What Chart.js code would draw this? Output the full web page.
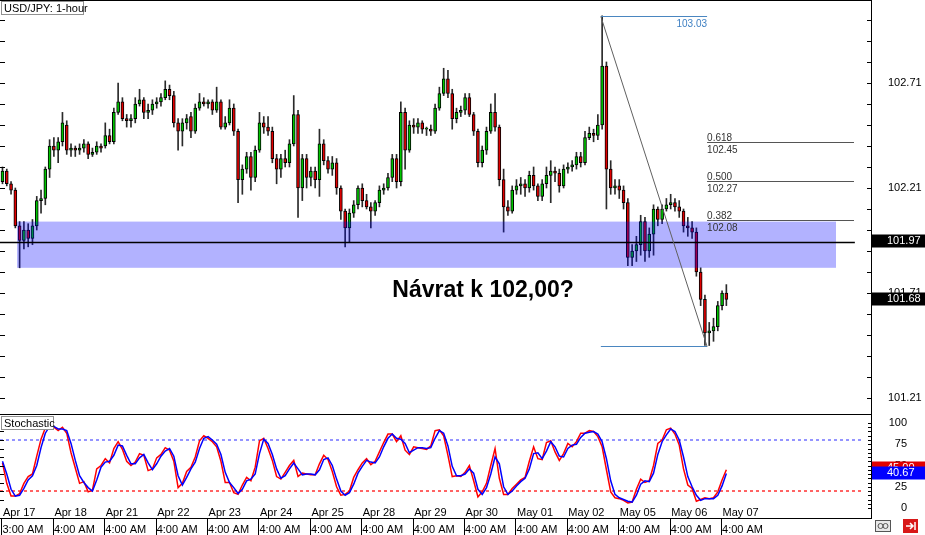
<!DOCTYPE html>
<html>
<head>
<meta charset="utf-8">
<title>USD/JPY 1-hour</title>
<script src="https://cdn.jsdelivr.net/npm/chart.js@4.4.0/dist/chart.umd.min.js"></script>
<style>
  html, body { margin: 0; padding: 0; background: #fff; }
  #wrap { position: relative; width: 925px; height: 535px; overflow: hidden; }
  #priceChart { position: absolute; left: 0; top: 0; }
  #stochChart { position: absolute; left: 0; top: 414px; }
</style>
</head>
<body>
<div id="wrap">
  <canvas id="priceChart" width="925" height="414"></canvas>
  <canvas id="stochChart" width="925" height="121"></canvas>
</div>
<script>
// USD/JPY candles (2-hour steps)
const opens = [
  102.24,102.29,102.23,102.20,102.03,101.96,102.01,101.97,102.03,102.15,
  102.16,102.30,102.41,102.39,102.43,102.51,102.39,102.40,102.39,102.40,
  102.42,102.37,102.38,102.41,102.41,102.46,102.43,102.57,102.62,102.54,
  102.53,102.54,102.61,102.63,102.57,102.58,102.61,102.62,102.64,102.68,
  102.65,102.52,102.48,102.52,102.55,102.48,102.59,102.62,102.61,102.62,
  102.58,102.62,102.50,102.52,102.59,102.48,102.25,102.30,102.36,102.26,
  102.39,102.52,102.50,102.48,102.35,102.30,102.35,102.33,102.42,102.56,
  102.21,102.35,102.26,102.29,102.25,102.42,102.34,102.30,102.33,102.21,
  102.10,102.02,102.09,102.13,102.21,102.15,102.12,102.10,102.14,102.20,
  102.21,102.26,102.35,102.24,102.57,102.39,102.51,102.50,102.52,102.49,
  102.49,102.48,102.59,102.66,102.73,102.66,102.54,102.57,102.58,102.64,
  102.56,102.48,102.33,102.39,102.48,102.57,102.50,102.25,102.12,102.10,
  102.20,102.22,102.23,102.21,102.27,102.22,102.17,102.23,102.27,102.29,
  102.28,102.22,102.30,102.31,102.32,102.36,102.33,102.45,102.47,102.46,
  102.51,102.79,102.30,102.21,102.22,102.20,102.14,101.88,101.91,101.94,
  102.05,101.91,101.99,102.11,102.06,102.11,102.13,102.14,102.12,102.10,
  102.03,102.02,102.00,101.81,101.68,101.52,101.53,101.55,101.65,101.71
];
const highs = [
  102.31,102.30,102.24,102.21,102.05,102.05,102.04,102.06,102.17,102.20,
  102.31,102.44,102.45,102.45,102.57,102.53,102.42,102.41,102.42,102.44,
  102.43,102.40,102.43,102.42,102.52,102.49,102.59,102.71,102.64,102.56,
  102.56,102.64,102.68,102.64,102.61,102.63,102.64,102.66,102.72,102.70,
  102.67,102.54,102.54,102.56,102.57,102.61,102.66,102.64,102.63,102.63,
  102.69,102.63,102.55,102.63,102.61,102.49,102.32,102.38,102.38,102.41,
  102.57,102.55,102.55,102.50,102.37,102.37,102.39,102.44,102.65,102.58,
  102.37,102.37,102.31,102.31,102.49,102.44,102.36,102.36,102.35,102.22,
  102.11,102.11,102.15,102.22,102.23,102.18,102.14,102.15,102.22,102.23,
  102.28,102.37,102.37,102.62,102.59,102.53,102.54,102.54,102.53,102.50,
  102.51,102.61,102.69,102.78,102.77,102.68,102.59,102.60,102.66,102.66,
  102.57,102.49,102.41,102.50,102.61,102.66,102.51,102.30,102.15,102.22,
  102.25,102.26,102.25,102.29,102.31,102.23,102.25,102.31,102.34,102.31,
  102.30,102.32,102.33,102.34,102.38,102.38,102.48,102.50,102.49,102.56,
  103.03,102.81,102.34,102.25,102.25,102.22,102.16,101.94,101.98,102.08,
  102.07,102.02,102.13,102.12,102.13,102.16,102.18,102.16,102.15,102.11,
  102.07,102.05,102.02,101.83,101.70,101.57,101.59,101.67,101.72,101.75
];
const lows = [
  102.23,102.22,102.18,102.02,101.83,101.92,101.93,101.94,102.01,102.09,
  102.13,102.26,102.36,102.33,102.41,102.37,102.36,102.36,102.37,102.38,
  102.35,102.36,102.37,102.38,102.40,102.42,102.42,102.56,102.53,102.50,
  102.50,102.52,102.60,102.54,102.54,102.56,102.59,102.60,102.63,102.63,
  102.50,102.39,102.41,102.49,102.45,102.47,102.58,102.60,102.59,102.56,
  102.57,102.49,102.49,102.51,102.46,102.14,102.18,102.28,102.20,102.24,
  102.38,102.47,102.46,102.33,102.23,102.26,102.31,102.31,102.41,102.07,
  102.15,102.21,102.22,102.21,102.17,102.32,102.28,102.27,102.18,102.06,
  101.93,101.95,102.07,102.11,102.12,102.11,102.02,102.08,102.12,102.18,
  102.20,102.24,102.21,102.22,102.30,102.38,102.47,102.47,102.47,102.46,
  102.46,102.47,102.58,102.65,102.64,102.49,102.52,102.55,102.56,102.55,
  102.46,102.31,102.31,102.37,102.47,102.48,102.22,102.00,102.08,102.09,
  102.18,102.18,102.17,102.19,102.20,102.15,102.15,102.21,102.14,102.24,
  102.19,102.21,102.28,102.29,102.30,102.31,102.32,102.44,102.43,102.44,
  102.49,102.11,102.18,102.18,102.16,102.11,101.84,101.84,101.86,101.89,
  101.86,101.88,101.89,102.03,102.04,102.10,102.11,102.10,102.07,102.00,
  101.98,101.97,101.79,101.65,101.46,101.46,101.48,101.53,101.63,101.65
];
const closes = [
  102.29,102.23,102.20,102.03,101.96,102.01,101.97,102.03,102.15,102.16,
  102.30,102.41,102.39,102.43,102.52,102.39,102.40,102.39,102.40,102.42,
  102.37,102.38,102.41,102.40,102.46,102.43,102.57,102.62,102.54,102.53,
  102.54,102.61,102.63,102.57,102.58,102.61,102.62,102.64,102.68,102.65,
  102.52,102.48,102.52,102.54,102.48,102.59,102.62,102.61,102.62,102.58,
  102.62,102.50,102.52,102.59,102.48,102.25,102.30,102.36,102.26,102.39,
  102.52,102.50,102.48,102.35,102.30,102.35,102.33,102.42,102.56,102.21,
  102.35,102.26,102.29,102.25,102.42,102.34,102.30,102.33,102.21,102.10,
  102.02,102.09,102.13,102.21,102.15,102.12,102.10,102.14,102.20,102.21,
  102.26,102.35,102.24,102.57,102.39,102.51,102.50,102.52,102.49,102.49,
  102.48,102.59,102.66,102.73,102.66,102.54,102.57,102.58,102.64,102.56,
  102.48,102.33,102.39,102.48,102.57,102.50,102.25,102.12,102.10,102.20,
  102.22,102.23,102.21,102.27,102.22,102.17,102.23,102.27,102.29,102.28,
  102.22,102.30,102.31,102.32,102.36,102.33,102.45,102.47,102.46,102.51,
  102.79,102.30,102.21,102.22,102.20,102.14,101.88,101.91,101.94,102.05,
  101.91,101.99,102.11,102.06,102.11,102.13,102.14,102.12,102.10,102.03,
  102.02,102.00,101.81,101.68,101.52,101.53,101.55,101.65,101.71,101.68
];

// Stochastic main (red) and signal (blue)
const stochMain = [
  53,29,14,14,17,29,37,40,61,81, 94,97,95,91,95,88,65,47,29,31,
  19,21,46,50,58,53,70,78,69,55, 50,54,64,62,44,46,59,63,71,68,
  55,24,29,43,48,60,79,85,82,78, 72,55,30,30,18,16,27,36,32,48,
  79,82,70,56,37,34,42,50,56,37, 41,40,39,39,52,62,57,43,25,15,
  16,20,36,45,53,58,51,55,66,77, 87,87,78,85,68,63,72,71,70,69,
  73,91,92,85,62,37,38,37,42,50, 32,13,19,29,50,70,35,16,16,23,
  28,33,36,55,72,58,57,77,79,66, 56,64,76,72,78,88,88,91,90,84,
  72,45,19,12,11,9,6,7,22,34, 30,32,50,76,80,92,94,87,74,46,
  27,23,8,10,12,11,12,19,33,45
];
const stochSignal = [
  55,40,22,14,15,23,33,38,50,71, 88,96,96,93,93,91,76,56,38,30,
  24,20,33,48,54,55,62,74,73,62, 52,52,59,63,53,45,52,61,67,70,
  61,38,27,36,46,54,70,82,84,80, 75,63,42,30,24,17,22,32,34,40,
  64,81,76,63,46,35,38,46,53,46, 39,40,40,39,45,57,59,50,34,20,
  15,18,28,41,49,56,54,53,60,72, 82,87,82,81,76,65,68,71,71,70,
  71,82,91,88,73,49,38,38,40,46, 41,22,16,24,40,60,52,25,16,20,
  26,31,35,46,64,65,58,67,78,72, 61,60,70,74,75,83,88,89,90,87,
  78,58,32,16,12,10,8,7,15,28, 32,31,41,63,78,86,93,90,80,60,
  37,25,15,9,11,11,11,15,26,40.67
];

// axis labels
const dayLabels = ['Apr 17','Apr 18','Apr 21','Apr 22','Apr 23','Apr 24','Apr 25','Apr 28',
                   'Apr 29','Apr 30','May 01','May 02','May 05','May 06','May 07'];
const timeLabels = ['3:00 AM','4:00 AM','4:00 AM','4:00 AM','4:00 AM','4:00 AM','4:00 AM','4:00 AM',
                    '4:00 AM','4:00 AM','4:00 AM','4:00 AM','4:00 AM','4:00 AM','4:00 AM'];
const priceLabels = ['102.71','102.21','101.71','101.21'];
const stochLabels = [100, 75, 50, 25, 0];

// annotations drawn on top
const zoneTop = 102.05, zoneBottom = 101.83;
const keyLevel = 101.95, keyLevelText = '101.97';
const fibHigh = 103.03, fibLow = 101.46;
const fibRatios = [0.618, 0.5, 0.382];
const fibRatioText = ['0.618', '0.500', '0.382'];
const fibValueText = ['102.45', '102.27', '102.08'];
const headline = 'Návrat k 102,00?';

// bar index positions of the drawings
const zoneFrom = 3.4, zoneTo = 194.6;
const lineTo = 199;
const fibFrom = 139.7, fibTo = 164.5, fibLevelTo = 198.8;
const stochLevelTo = 200.7;
const headlineAt = 112.2, headlinePrice = 101.69;

const barsPerDay = 12;
const xMin = -0.58, xMax = 202.77;
const axisWidth = 54;

Chart.defaults.font.family = '"Liberation Sans", Arial, sans-serif';
Chart.defaults.font.size = 11;
Chart.defaults.color = '#000';

const wickData = highs.map((h, i) => ({ x: i, y: [lows[i], h] }));
const bodyData = opens.map((o, i) => ({ x: i, y: [o, closes[i]] }));
const bodyColors = opens.map((o, i) => closes[i] >= o ? '#00c400' : '#e00000');

const priceTicks = [];
for (let v = 10121; v <= 10301; v += 10) priceTicks.push(v / 100);
const stochTicks = [];
for (let v = 0; v <= 100; v += 5) stochTicks.push(v);
const dayTicks = dayLabels.map((d, k) => k * barsPerDay);

function fixAxisWidth(scale) {
  scale.width = axisWidth;
  scale.paddingTop = 0;
  scale.paddingBottom = 0;
}

function labelBox(ctx, y, text, bg) {
  ctx.fillStyle = bg;
  ctx.fillRect(872, Math.round(y) - 6.5, 53, 13);
  ctx.fillStyle = '#fff';
  ctx.textAlign = 'left';
  ctx.textBaseline = 'middle';
  ctx.fillText(text, 887, Math.round(y));
}

function tagBox(ctx, x, y, w, text) {
  ctx.fillStyle = '#fff';
  ctx.fillRect(x, y, w, 14);
  ctx.strokeStyle = '#909090';
  ctx.lineWidth = 1;
  ctx.strokeRect(x + 0.5, y + 0.5, w - 1, 13);
  ctx.fillStyle = '#000';
  ctx.textAlign = 'left';
  ctx.textBaseline = 'middle';
  ctx.font = '11px "Liberation Sans", Arial, sans-serif';
  ctx.fillText(text, x + 3, y + 7.5);
}

const priceOverlay = {
  id: 'priceOverlay',
  afterDraw(chart) {
    const { ctx, chartArea: a, scales: { x, y } } = chart;
    ctx.save();

    // support zone, drawn over the candles
    ctx.fillStyle = 'rgba(0, 0, 255, 0.3)';
    const zx1 = x.getPixelForValue(zoneFrom), zx2 = x.getPixelForValue(zoneTo);
    const zy1 = y.getPixelForValue(zoneTop), zy2 = y.getPixelForValue(zoneBottom);
    ctx.fillRect(zx1, zy1, zx2 - zx1, zy2 - zy1);

    // horizontal level
    ctx.strokeStyle = '#000';
    ctx.lineWidth = 1.5;
    const ky = y.getPixelForValue(keyLevel);
    ctx.beginPath();
    ctx.moveTo(a.left, ky);
    ctx.lineTo(x.getPixelForValue(lineTo), ky);
    ctx.stroke();

    // fibonacci retracement
    const fx1 = x.getPixelForValue(fibFrom), fx2 = x.getPixelForValue(fibTo);
    const fyH = Math.round(y.getPixelForValue(fibHigh)) + 0.5;
    const fyL = Math.round(y.getPixelForValue(fibLow)) + 0.5;
    ctx.lineWidth = 1;
    ctx.strokeStyle = '#4a86c0';
    ctx.beginPath();
    ctx.moveTo(fx1, fyH); ctx.lineTo(fx2, fyH);
    ctx.moveTo(fx1, fyL); ctx.lineTo(fx2, fyL);
    ctx.stroke();
    ctx.strokeStyle = '#606060';
    ctx.beginPath();
    ctx.moveTo(fx1, fyH); ctx.lineTo(fx2, fyL);
    ctx.stroke();

    ctx.font = '10px "Liberation Sans", Arial, sans-serif';
    ctx.fillStyle = '#3d7fc2';
    ctx.textAlign = 'right';
    ctx.textBaseline = 'top';
    ctx.fillText(fibHigh.toFixed(2), fx2, fyH + 3);

    const lx2 = x.getPixelForValue(fibLevelTo);
    fibRatios.forEach((r, k) => {
      const ly = Math.round(y.getPixelForValue(fibLow + (fibHigh - fibLow) * r)) + 0.5;
      ctx.strokeStyle = '#555';
      ctx.beginPath();
      ctx.moveTo(fx2, ly); ctx.lineTo(lx2, ly);
      ctx.stroke();
      ctx.fillStyle = '#333';
      ctx.textAlign = 'left';
      ctx.textBaseline = 'alphabetic';
      ctx.fillText(fibRatioText[k], fx2, ly - 2);
      ctx.textBaseline = 'top';
      ctx.fillText(fibValueText[k], fx2, ly + 3);
    });

    // headline
    ctx.font = 'bold 23px "Liberation Sans", Arial, sans-serif';
    ctx.fillStyle = '#000';
    ctx.textAlign = 'center';
    ctx.textBaseline = 'alphabetic';
    ctx.fillText(headline, x.getPixelForValue(headlineAt), y.getPixelForValue(headlinePrice));

    // frame and small tick marks
    ctx.strokeStyle = '#000';
    ctx.lineWidth = 1;
    ctx.beginPath();
    ctx.moveTo(0, 0.5); ctx.lineTo(a.right + 1, 0.5);
    priceTicks.forEach(v => {
      const ty = Math.round(y.getPixelForValue(v)) + 0.5;
      ctx.moveTo(0, ty); ctx.lineTo(5, ty);
      ctx.moveTo(a.right - 4, ty); ctx.lineTo(a.right, ty);
    });
    ctx.stroke();

    // price tags on the axis
    ctx.font = '11px "Liberation Sans", Arial, sans-serif';
    labelBox(ctx, ky - 2, keyLevelText, '#000');
    labelBox(ctx, y.getPixelForValue(closes[closes.length - 1]), closes[closes.length - 1].toFixed(2), '#000');

    tagBox(ctx, 1, 1, 83, 'USD/JPY: 1-hour');
    ctx.restore();
  }
};

new Chart(document.getElementById('priceChart'), {
  type: 'bar',
  data: {
    datasets: [
      {
        label: 'Body', data: bodyData, backgroundColor: bodyColors,
        borderColor: '#000', borderWidth: 1, borderSkipped: false,
        barThickness: 3, minBarLength: 1, grouped: false, order: 1
      },
      {
        label: 'Wick', data: wickData, backgroundColor: '#2a2a2a',
        borderWidth: 0, barThickness: 1, grouped: false, order: 2
      }
    ]
  },
  options: {
    responsive: false,
    animation: false,
    layout: { padding: 0 },
    plugins: { legend: { display: false }, tooltip: { enabled: false } },
    scales: {
      x: { type: 'linear', min: xMin, max: xMax, offset: false, display: false },
      y: {
        position: 'right',
        min: 101.134,
        max: 103.105,
        afterFit: fixAxisWidth,
        afterBuildTicks: scale => { scale.ticks = priceTicks.map(v => ({ value: v })); },
        grid: { display: false, tickLength: 0 },
        border: { display: true, color: '#000', width: 1 },
        ticks: {
          padding: 17,
          color: '#000',
          callback: v => priceLabels.includes(v.toFixed(2)) ? v.toFixed(2) : ''
        }
      }
    }
  },
  plugins: [priceOverlay]
});

const stochOverlay = {
  id: 'stochOverlay',
  afterDraw(chart) {
    const { ctx, chartArea: a, scales: { x, y } } = chart;
    ctx.save();
    ctx.strokeStyle = '#000';
    ctx.lineWidth = 1;
    ctx.beginPath();
    ctx.moveTo(0, 0.5); ctx.lineTo(a.right + 1, 0.5);
    stochTicks.forEach(v => {
      const ty = Math.round(y.getPixelForValue(v)) + 0.5;
      ctx.moveTo(a.right - 3, ty); ctx.lineTo(a.right, ty);
      if (v % 10 === 0 && v > 0 && v < 100) { ctx.moveTo(0, ty); ctx.lineTo(4, ty); }
    });
    // separators between the time labels
    dayTicks.forEach(v => {
      const sx = Math.round(x.getPixelForValue(v)) - 0.5;
      ctx.moveTo(sx, a.bottom); ctx.lineTo(sx, chart.height);
    });
    ctx.stroke();

    ctx.font = '11px "Liberation Sans", Arial, sans-serif';
    ctx.fillStyle = '#000';
    ctx.textAlign = 'left';
    ctx.textBaseline = 'alphabetic';
    dayLabels.forEach((d, k) => {
      ctx.fillText(d, x.getPixelForValue(dayTicks[k]) + 0.5, a.bottom - 2);
    });

    // value scale labels, right aligned like the terminal does
    ctx.textAlign = 'right';
    ctx.textBaseline = 'middle';
    stochLabels.forEach(v => ctx.fillText(String(v), 907, y.getPixelForValue(v)));

    const lastMain = stochMain[stochMain.length - 1];
    const lastSignal = stochSignal[stochSignal.length - 1];
    labelBox(ctx, y.getPixelForValue(lastMain) - 2, lastMain.toFixed(2), '#e00000');
    labelBox(ctx, y.getPixelForValue(lastSignal), lastSignal.toFixed(2), '#0000ff');

    tagBox(ctx, 1, 2, 53, 'Stochastic');

    // toolbar icons, bottom right
    ctx.fillStyle = '#e8e8e8';
    ctx.fillRect(875, 106, 16, 12);
    ctx.strokeStyle = '#555';
    ctx.lineWidth = 1;
    ctx.strokeRect(875.5, 106.5, 15, 11);
    ctx.beginPath();
    ctx.arc(880.5, 112, 2.5, 0, Math.PI * 2);
    ctx.moveTo(888, 112);
    ctx.arc(885.5, 112, 2.5, 0, Math.PI * 2);
    ctx.stroke();
    ctx.fillStyle = '#d81818';
    ctx.fillRect(903, 105, 15, 14);
    ctx.strokeStyle = '#fff';
    ctx.lineWidth = 1.5;
    ctx.beginPath();
    ctx.moveTo(906, 112); ctx.lineTo(913, 112);
    ctx.moveTo(910, 109); ctx.lineTo(913, 112); ctx.lineTo(910, 115);
    ctx.moveTo(915, 108); ctx.lineTo(915, 116);
    ctx.stroke();
    ctx.restore();
  }
};

new Chart(document.getElementById('stochChart'), {
  type: 'line',
  data: {
    datasets: [
      {
        label: 'Signal', data: stochSignal.map((v, i) => ({ x: i, y: v })),
        borderColor: '#0000ff', borderWidth: 1.5, pointRadius: 0, order: 1
      },
      {
        label: 'Main', data: stochMain.map((v, i) => ({ x: i, y: v })),
        borderColor: '#ff0000', borderWidth: 1.5, pointRadius: 0, order: 2
      },
      {
        label: '80', data: [{ x: xMin, y: 80 }, { x: stochLevelTo, y: 80 }],
        borderColor: '#2b2bff', borderWidth: 1, borderDash: [3, 3], pointRadius: 0, order: 3
      },
      {
        label: '20', data: [{ x: xMin, y: 20 }, { x: stochLevelTo, y: 20 }],
        borderColor: '#ff3030', borderWidth: 1.5, borderDash: [3, 3], pointRadius: 0, order: 3
      }
    ]
  },
  options: {
    responsive: false,
    animation: false,
    layout: { padding: { top: 1 } },
    plugins: { legend: { display: false }, tooltip: { enabled: false } },
    scales: {
      x: {
        type: 'linear', min: xMin, max: xMax, offset: false,
        afterFit: scale => { scale.height = 17; scale.paddingLeft = 0; scale.paddingRight = 0; },
        afterBuildTicks: scale => { scale.ticks = dayTicks.map(v => ({ value: v })); },
        grid: { display: false, tickLength: 0 },
        border: { display: true, color: '#000', width: 1 },
        ticks: {
          align: 'start', padding: 5, autoSkip: false, maxRotation: 0, minRotation: 0,
          color: '#000',
          callback: (v, i) => timeLabels[i]
        }
      },
      y: {
        position: 'right',
        min: -11.76,
        max: 109.41,
        afterFit: fixAxisWidth,
        afterBuildTicks: scale => { scale.ticks = stochTicks.map(v => ({ value: v })); },
        grid: { display: false, tickLength: 0 },
        border: { display: true, color: '#000', width: 1 },
        ticks: { display: false }
      }
    }
  },
  plugins: [stochOverlay]
});
</script>
</body>
</html>
